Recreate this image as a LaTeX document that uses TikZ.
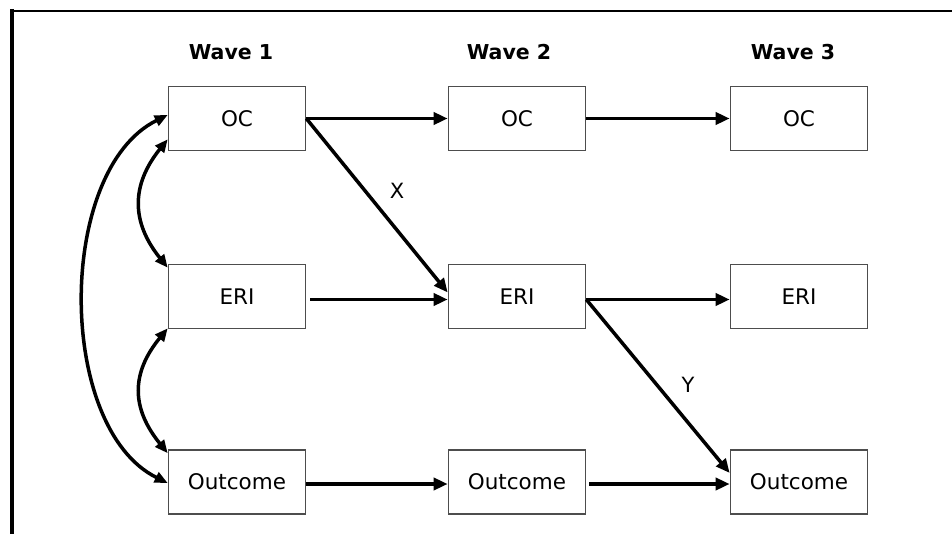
\documentclass[tikz,border=0pt]{standalone}
\usepackage{fontspec}
\setmainfont{DejaVu Sans}
\usetikzlibrary{arrows.meta}
\definecolor{boxgray}{HTML}{4D4D4D}
\begin{document}
\begin{tikzpicture}[x=1pt,y=1pt,
  box/.style={draw=boxgray, line width=1.6pt, minimum width=137pt, minimum height=64pt,
    inner sep=0pt, font=\fontsize{21.5}{25}\selectfont},
  wave/.style={font=\fontsize{20.5}{24}\selectfont\bfseries},
  lbl/.style={font=\fontsize{21}{25}\selectfont},
  conn/.style={line width=3.5pt, -{Triangle[length=14pt,width=12pt]}},
  link/.style={line width=3.5pt, {Triangle[length=13pt,width=11pt]}-{Triangle[length=13pt,width=11pt]}}]
\useasboundingbox (0,0) rectangle (952,-534);

% frame lines (left and top)
\draw[line width=4.5pt] (12,-9) -- (12,-534);
\draw[line width=2.8pt] (10,-11) -- (952,-11);

% wave headings
\node[wave] (w1) at (231,-52) {Wave 1};
\node[wave] (w2) at (509,-52) {Wave 2};
\node[wave] (w3) at (793,-52) {Wave 3};

% variables
\node[box] (oc1)  at (237,-118.5) {OC};
\node[box] (eri1) at (237,-296.5) {ERI};
\node[box] (out1) at (237,-482)   {Outcome};
\node[box] (oc2)  at (517,-118.5) {OC};
\node[box] (eri2) at (517,-296.5) {ERI};
\node[box] (out2) at (517,-482)   {Outcome};
\node[box] (oc3)  at (799,-118.5) {OC};
\node[box] (eri3) at (799,-296.5) {ERI};
\node[box] (out3) at (799,-482)   {Outcome};

% stability paths
\draw[conn] (oc1.east) -- (oc2.west);
\draw[conn] (oc2.east) -- (oc3.west);
\draw[conn, shorten <=4pt] ([yshift=-3pt]eri1.east) -- ([yshift=-3pt]eri2.west);
\draw[conn] ([yshift=-3pt]eri2.east) -- ([yshift=-3pt]eri3.west);
\draw[conn] ([yshift=-2pt]out1.east) -- ([yshift=-2pt]out2.west);
\draw[conn, shorten <=3pt] ([yshift=-2pt]out2.east) -- ([yshift=-2pt]out3.west);

% cross-lagged paths
\draw[conn] (oc1.east) -- ([yshift=4pt]eri2.west);
\draw[conn] ([yshift=-3pt]eri2.east) -- ([yshift=9pt]out3.west);
\node[lbl] (xl) at (397,-191) {X};
\node[lbl] (yl) at (688,-385) {Y};

% wave 1 covariances
\draw[link] ([yshift=12pt]oc1.south west) .. controls (131,-185) and (131,-222) .. ([yshift=-4pt]eri1.north west);
\draw[link] ([yshift=1pt]eri1.south west) .. controls (131,-373) and (131,-408) .. ([yshift=-4pt]out1.north west);
\draw[link] ([yshift=3.5pt]oc1.west) .. controls (56,-170) and (56,-428) .. ([yshift=-1pt]out1.west);
\end{tikzpicture}
\end{document}
